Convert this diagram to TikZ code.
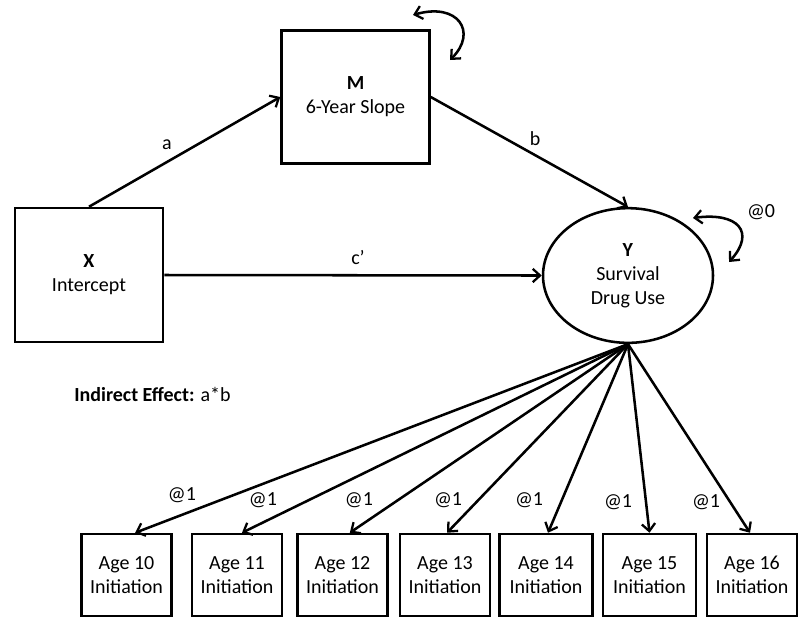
\documentclass[tikz,border=0pt]{standalone}
\usepackage{fontspec}
\setmainfont{Carlito}
\usetikzlibrary{shapes.geometric,arrows.meta}
\begin{document}
\begin{tikzpicture}[x=0.75pt,y=-0.75pt,
  every node/.style={font=\fontsize{15}{18}\selectfont},
  conn/.style={line width=1.9pt,-{Straight Barb[length=5.5pt,width=10pt,line width=1.7pt]}},
  loop/.style={line width=1.9pt,{Straight Barb[length=5.5pt,width=10pt,line width=1.7pt]}-{Straight Barb[length=5.5pt,width=10pt,line width=1.7pt]}},
  bigbox/.style={draw,line width=1.9pt,minimum width=111pt,minimum height=99.5pt,align=center,inner sep=0pt},
  agebox/.style={draw,line width=1.9pt,minimum width=67.5pt,minimum height=61.5pt,align=center,inner sep=0pt},
  lbl/.style={inner sep=0pt}]
\useasboundingbox (0,0) rectangle (798,619);
\node[bigbox] (M) at (355.5,97) {\textbf{M}\\6-Year Slope};
\node[bigbox,minimum height=100.5pt] (X) at (89,275) {\textbf{X}\\Intercept};
\node[draw,ellipse,line width=1.9pt,minimum width=127.5pt,minimum height=101pt,inner sep=0pt,align=center] (Y) at (628,275.5) {\textbf{Y}\\Survival\\Drug Use};
\node[agebox] (b1) at (126.5,575) {Age 10\\Initiation};
\node[agebox] (b2) at (237,575) {Age 11\\Initiation};
\node[agebox] (b3) at (342.5,575) {Age 12\\Initiation};
\node[agebox] (b4) at (445,575) {Age 13\\Initiation};
\node[agebox,minimum width=70pt] (b5) at (546,575) {Age 14\\Initiation};
\node[agebox,minimum width=70pt] (b6) at (649.5,575) {Age 15\\Initiation};
\node[agebox] (b7) at (752,575) {Age 16\\Initiation};
\draw[conn] (X.north) -- (M.west);
\draw[conn] (M.east) -- (Y.north);
\draw[conn] (X.east) -- (Y.west);
\node[lbl] (la) at (167,145) {a};
\node[lbl] (lb) at (535,139) {b};
\node[lbl] (lc) at (358,258) {c’};
\coordinate (m1) at (413,15);
\coordinate (m2) at (450,60);
\draw[loop] (m1) .. controls (458,2) and (478,32) .. (m2);
\coordinate (y1) at (693,218);
\coordinate (y2) at (729,262);
\draw[loop] (y1) .. controls (738,212) and (756,232) .. (y2);
\node[lbl] (l0) at (761,212) {@0};
\node[lbl,anchor=west] (ind) at (74,394) {\textbf{Indirect Effect:} a*b};
\draw[conn] (Y.south) -- ([xshift=6.5pt]b1.north);
\draw[conn] (Y.south) -- ([xshift=3.75pt]b2.north);
\draw[conn] (Y.south) -- ([xshift=5.5pt]b3.north);
\draw[conn] (Y.south) -- ([xshift=1.5pt]b4.north);
\draw[conn] (Y.south) -- ([xshift=1.5pt]b5.north);
\draw[conn] (Y.south) -- (b6.north);
\draw[conn] (Y.south) -- ([xshift=-1.5pt]b7.north);
\node[lbl] (w1) at (182,495) {@1};
\node[lbl] (w2) at (263,500) {@1};
\node[lbl] (w3) at (359,500) {@1};
\node[lbl] (w4) at (448,500) {@1};
\node[lbl] (w5) at (529,500) {@1};
\node[lbl] (w6) at (618,502) {@1};
\node[lbl] (w7) at (706,502) {@1};
\end{tikzpicture}
\end{document}
